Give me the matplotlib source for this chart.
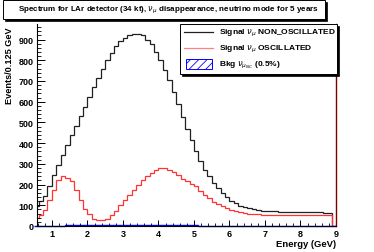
import matplotlib
matplotlib.use('Agg')
import matplotlib.pyplot as plt
import numpy as np
from matplotlib.patches import Rectangle
from matplotlib.lines import Line2D
from matplotlib.ticker import MultipleLocator

plt.rcParams['font.family'] = ['Liberation Sans', 'DejaVu Sans']
plt.rcParams['hatch.linewidth'] = 0.6

# ---- data (bins of 0.125 GeV from 0.5 to 9.0 GeV) ----
bin_start = 0.5
bin_width = 0.125
non_oscillated = [95, 120, 145, 191, 244, 293, 341, 389, 437, 481, 529, 574, 622, 670,
                  714, 759, 799, 834, 867, 892, 908, 921, 929, 929, 923, 899, 879, 839,
                  799, 754, 703, 646, 587, 526, 469, 413, 363, 315, 272, 240, 206, 182,
                  159, 138, 122, 109, 98, 90, 85, 82, 77, 74, 73, 71, 70, 69,
                  69, 68, 68, 67, 67, 66, 66, 66, 66, 65, 65, 0]
oscillated = [38, 52, 78, 124, 172, 220, 241, 233, 217, 172, 124, 80, 56, 35,
              30, 30, 35, 51, 71, 100, 124, 148, 172, 196, 220, 241, 256, 272,
              280, 280, 272, 260, 244, 228, 217, 205, 191, 170, 150, 133, 117, 106,
              95, 85, 77, 71, 66, 63, 60, 58, 56, 55, 54, 54, 53, 53,
              53, 52, 52, 52, 52, 52, 52, 52, 52, 51, 51, 0]
background = [1, 1, 1, 2, 2, 2, 2, 3, 3, 3, 3, 3, 4, 4,
              4, 4, 4, 4, 4, 4, 4, 4, 4, 4, 4, 4, 4, 4,
              4, 4, 3, 3, 3, 3, 3, 3, 3, 2, 2, 2, 2, 2,
              2, 2, 2, 2, 2, 2, 2, 2, 2, 1, 1, 1, 1, 1,
              1, 1, 1, 1, 1, 1, 1, 1, 1, 1, 1, 0]
title = r"Spectrum for LAr detector (34 kt), $\nu_{\mu}$ disappearance, neutrino mode for 5 years"
legend_labels = [r"Signal $\nu_{\mu}$ NON_OSCILLATED",
                 r"Signal $\nu_{\mu}$ OSCILLATED",
                 r"Bkg $\nu_{\mu_{NC}}$ (0.5%)"]
xlabel = "Energy (GeV)"
ylabel = "Events/0.125 GeV"

edges = bin_start + bin_width * np.arange(len(non_oscillated) + 1)

W, H = 374, 253
fig = plt.figure(figsize=(W / 100, H / 100), dpi=100)
fx = lambda x: x / W
fy = lambda y: 1 - y / H

ax = fig.add_axes([fx(37), fy(227), (336 - 37) / W, (227 - 25) / H])
ax.stairs(non_oscillated, edges, color='#202020', lw=0.9)
ax.stairs(oscillated, edges, color='#ff3333', lw=0.9)
ax.stairs(background, edges, fill=True, facecolor='none', edgecolor='blue',
          hatch='////', lw=1.0, clip_on=False)
ax.set_xlim(0.58, 9.0)
ax.set_ylim(0, 975)

ax.xaxis.set_major_locator(MultipleLocator(1))
ax.xaxis.set_minor_locator(MultipleLocator(0.2))
ax.yaxis.set_major_locator(MultipleLocator(100))
ax.yaxis.set_minor_locator(MultipleLocator(20))
ax.tick_params(axis='x', which='major', direction='in', length=4, width=0.7, pad=2.5,
               labelsize=6.5)
ax.tick_params(axis='x', which='minor', direction='in', length=2, width=0.6)
ax.tick_params(axis='y', which='major', direction='in', length=6, width=0.7, pad=2.5,
               labelsize=6.5)
ax.tick_params(axis='y', which='minor', direction='in', length=3, width=0.6)
for lab in ax.get_xticklabels() + ax.get_yticklabels():
    lab.set_fontweight('bold')
for s in ['left', 'bottom']:
    ax.spines[s].set_linewidth(0.8)
ax.spines['top'].set_visible(False)
ax.spines['right'].set_color('#7a0000')
ax.spines['right'].set_linewidth(1.0)

fig.text(fx(336), fy(245), xlabel, ha='right', va='center', fontsize=6.8, fontweight='bold')
fig.text(fx(10), fy(27), ylabel, ha='center', va='top', rotation=90, fontsize=6.6,
         fontweight='bold')

# title box
fig.patches.append(Rectangle((fx(4.5), fy(21.5)), 322 / W, 19 / H, transform=fig.transFigure,
                             facecolor='black', edgecolor='black', lw=0.5, zorder=1))
fig.patches.append(Rectangle((fx(3), fy(20)), 322 / W, 19 / H, transform=fig.transFigure,
                             facecolor='white', edgecolor='black', lw=0.7, zorder=2))
fig.text(fx(168), fy(10.5), title, ha='center', va='center', fontsize=5.8, fontweight='bold',
         zorder=3)

# legend box
fig.patches.append(Rectangle((fx(182), fy(77)), (337 - 180) / W, (75 - 25) / H,
                             transform=fig.transFigure, facecolor='black', edgecolor='black',
                             lw=0.5, zorder=4))
fig.patches.append(Rectangle((fx(180), fy(75)), (337 - 180) / W, (75 - 25) / H,
                             transform=fig.transFigure, facecolor='white', edgecolor='black',
                             lw=0.7, zorder=5))
rows = [33, 49, 65]
fig.lines.append(Line2D([fx(184), fx(213)], [fy(rows[0])] * 2, transform=fig.transFigure,
                        color='#202020', lw=0.9, zorder=6))
fig.lines.append(Line2D([fx(184), fx(213)], [fy(rows[1])] * 2, transform=fig.transFigure,
                        color='#ff8080', lw=0.9, zorder=6))
fig.patches.append(Rectangle((fx(186), fy(70)), 26 / W, 10 / H, transform=fig.transFigure,
                             facecolor='white', edgecolor='blue', hatch='////', lw=0.7,
                             zorder=6))
for r, lab in zip(rows, legend_labels):
    fig.text(fx(219), fy(r), lab, ha='left', va='center', fontsize=6, fontweight='bold',
             zorder=7)

fig.savefig('out.png', dpi=100)
